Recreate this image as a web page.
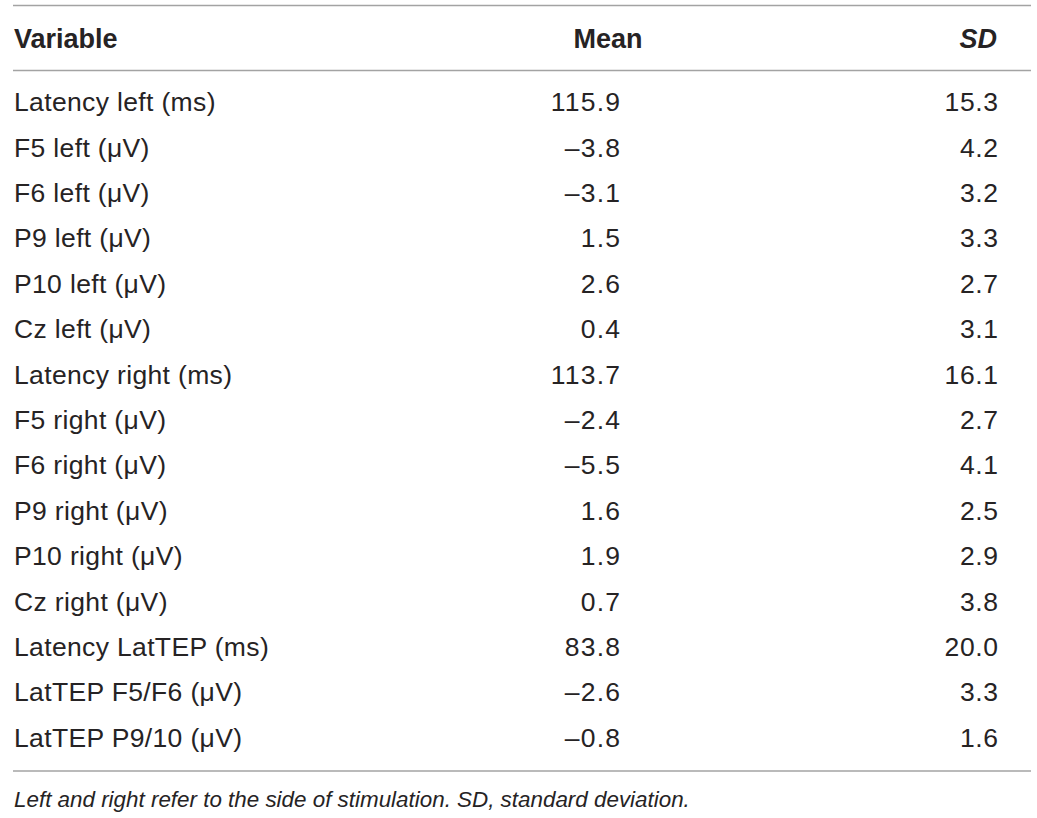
<!DOCTYPE html>
<html>
<head>
<meta charset="utf-8">
<script src="https://cdn.jsdelivr.net/npm/d3@7"></script>
<style>
  html, body { margin: 0; padding: 0; background: #fff; }
  svg { display: block; }
</style>
</head>
<body>
<div id="viz"></div>
<script>
const d3ref = d3;

// table contents
const headers = ['Variable', 'Mean', 'SD'];
const variables = [
    'Latency left (ms)', 'F5 left (\u03bcV)', 'F6 left (\u03bcV)', 'P9 left (\u03bcV)',
    'P10 left (\u03bcV)', 'Cz left (\u03bcV)', 'Latency right (ms)', 'F5 right (\u03bcV)',
    'F6 right (\u03bcV)', 'P9 right (\u03bcV)', 'P10 right (\u03bcV)', 'Cz right (\u03bcV)',
    'Latency LatTEP (ms)', 'LatTEP F5/F6 (\u03bcV)', 'LatTEP P9/10 (\u03bcV)'
];
const means = [115.9, -3.8, -3.1, 1.5, 2.6, 0.4, 113.7, -2.4, -5.5, 1.6, 1.9, 0.7, 83.8, -2.6, -0.8];
const sds = [15.3, 4.2, 3.2, 3.3, 2.7, 3.1, 16.1, 2.7, 4.1, 2.5, 2.9, 3.8, 20.0, 3.3, 1.6];
const footnote = 'Left and right refer to the side of stimulation. SD, standard deviation.';

let svg,
    width = 1037,
    height = 818,
    rowScale;

const ink = '#262324',
    rule = '#a3a3a3',
    font = '"Liberation Sans", Arial, Helvetica, sans-serif';

function fmt(v) {
    // en dash style minus like the journal typesetting
    return (v < 0 ? '\u2013' : '') + Math.abs(v).toFixed(1);
}

function ruleLine(y) {
    svg.append('line')
        .attr('x1', 13)
        .attr('x2', 1031)
        .attr('y1', y)
        .attr('y2', y)
        .style('stroke', rule)
        .style('stroke-width', 1.6);
}

function drawHeader() {
    const hdr = svg.append('g')
        .style('font-family', font)
        .style('font-size', '27px')
        .style('font-weight', 'bold')
        .style('fill', ink);

    hdr.append('text').attr('x', 14).attr('y', 47.5).text(headers[0]);
    hdr.append('text').attr('x', 608).attr('y', 47.5)
        .attr('text-anchor', 'middle').text(headers[1]);
    hdr.append('text').attr('x', 997).attr('y', 47.5)
        .attr('text-anchor', 'end').style('font-style', 'italic').text(headers[2]);
}

function drawRows() {
    const body = svg.append('g')
        .style('font-family', font)
        .style('font-size', '26.5px')
        .style('fill', ink);

    const rows = body.selectAll('g.row')
        .data(variables.map((v, i) => ({ name: v, mean: means[i], sd: sds[i] })))
        .join('g')
        .attr('class', 'row')
        .attr('transform', d => `translate(0, ${rowScale(d.name) + rowScale.bandwidth() / 2})`);

    rows.append('text')
        .attr('x', 14)
        .attr('dy', '0.36em')
        .style('letter-spacing', '0.35px')
        .text(d => d.name);

    // trailing letter-spacing pushes end-anchored text left, so compensate
    rows.append('text')
        .attr('x', 621.2)
        .attr('dy', '0.36em')
        .attr('text-anchor', 'end')
        .style('letter-spacing', '1.2px')
        .text(d => fmt(d.mean));

    rows.append('text')
        .attr('x', 998.6)
        .attr('dy', '0.36em')
        .attr('text-anchor', 'end')
        .style('letter-spacing', '0.6px')
        .text(d => fmt(d.sd));
}

function drawFootnote() {
    svg.append('text')
        .attr('x', 14)
        .attr('y', 807)
        .style('font-family', font)
        .style('font-size', '22.4px')
        .style('font-style', 'italic')
        .style('fill', ink)
        .text(footnote);
}

function placeTable() {
    svg = d3ref.select('#viz').append('svg')
        .attr('width', width)
        .attr('height', height);

    rowScale = d3ref.scaleBand()
        .domain(variables)
        .range([79, 79 + 45.4 * variables.length]);

    ruleLine(5.5);
    drawHeader();
    ruleLine(70.5);
    drawRows();
    ruleLine(771);
    drawFootnote();
}

placeTable();
</script>
</body>
</html>
